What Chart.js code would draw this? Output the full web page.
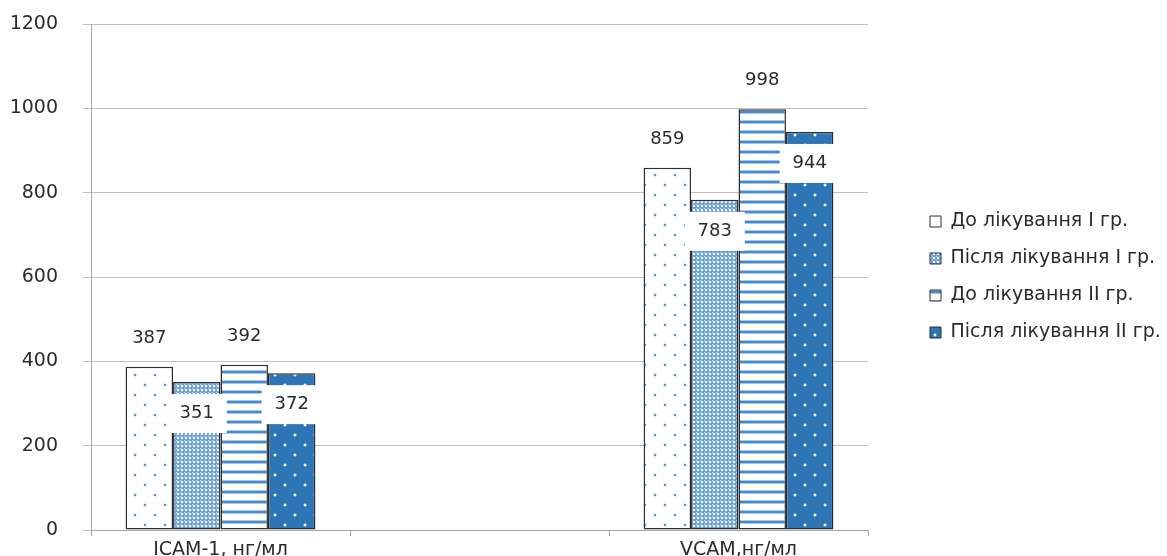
<!DOCTYPE html>
<html><head><meta charset="utf-8">
<script src="https://cdn.jsdelivr.net/npm/chart.js@4.4.1/dist/chart.umd.min.js"></script>
<style>html,body{margin:0;padding:0;background:#fff;overflow:hidden}</style>
</head><body>
<canvas id="c" width="1167" height="556"></canvas>
<script>
// ---- data ----
const categories = ["ICAM-1, нг/мл", "", "VCAM,нг/мл"];
const seriesNames = ["До лікування I гр.", "Після лікування I гр.", "До лікування II гр.", "Після лікування II гр."];
const beforeI  = [387, null, 859];
const afterI   = [351, null, 783];
const beforeII = [392, null, 998];
const afterII  = [372, null, 944];
const yTickValues = [0, 200, 400, 600, 800, 1000, 1200];

// ---- styles ----
const FONT = '"DejaVu Sans", "Open Sans", sans-serif';
const TEXT = '#2b2b2b';
const BORDER = '#2f2f2f';
const canvas = document.getElementById('c');
const ctx = canvas.getContext('2d');

function tile(w, h, draw) {
  const c = document.createElement('canvas'); c.width = w; c.height = h;
  const g = c.getContext('2d'); draw(g); return ctx.createPattern(c, 'repeat');
}
function dot(g, x, y, col, halo) {
  g.fillStyle = halo; g.fillRect(x - 1, y, 4, 2); g.fillRect(x, y - 1, 2, 4);
  g.fillStyle = col; g.fillRect(x, y, 2, 2);
}
const patDotsWhite = tile(20, 20, g => {
  g.fillStyle = '#ffffff'; g.fillRect(0, 0, 20, 20);
  dot(g, 4, 4, '#5b9bd5', 'rgba(91,155,213,0.2)');
  dot(g, 14, 14, '#5b9bd5', 'rgba(91,155,213,0.2)');
});
const patChecker = tile(4, 4, g => {
  g.fillStyle = '#6fa3dd'; g.fillRect(0, 0, 4, 4);
  g.fillStyle = '#ffffff'; g.fillRect(1, 1, 2, 2);
  g.fillStyle = '#b9d3ef'; g.fillRect(0, 0, 1, 1);
});
const patStripes = tile(10, 10, g => {
  g.fillStyle = '#ffffff'; g.fillRect(0, 0, 10, 10);
  g.fillStyle = '#a6c8ec'; g.fillRect(0, 0, 10, 1);
  g.fillStyle = '#4a88cc'; g.fillRect(0, 1, 10, 2);
  g.fillStyle = '#a6c8ec'; g.fillRect(0, 3, 10, 1);
});
const patDotsBlue = tile(20, 20, g => {
  g.fillStyle = '#2e75b6'; g.fillRect(0, 0, 20, 20);
  dot(g, 4, 4, '#ffffff', 'rgba(255,255,255,0.3)');
  dot(g, 14, 14, '#ffffff', 'rgba(255,255,255,0.3)');
});
const fills = [patDotsWhite, patChecker, patStripes, patDotsBlue];
const seriesData = [beforeI, afterI, beforeII, afterII];

const valueLabels = {
  id: 'valueLabels',
  afterDatasetsDraw(chart) {
    const c = chart.ctx;
    c.save();
    c.font = '18px ' + FONT;
    c.textAlign = 'center';
    c.textBaseline = 'middle';
    chart.data.datasets.forEach((ds, di) => {
      const meta = chart.getDatasetMeta(di);
      meta.data.forEach((bar, i) => {
        const v = ds.data[i];
        if (v == null) return;
        if (di % 2 === 1) {
          const cy = bar.y + 31.5;
          c.fillStyle = '#ffffff';
          c.fillRect(bar.x - 30, cy - 19.5, 60, 39);
          c.fillStyle = TEXT;
          c.fillText(String(v), bar.x, cy);
        } else {
          c.fillStyle = TEXT;
          c.fillText(String(v), bar.x, bar.y - 28.5);
        }
      });
    });
    c.restore();
  }
};

const LEGEND_W = 299, LEGEND_SHIFT = 44, LEGEND_UP = 13;
const legendPlace = {
  id: 'legendPlace',
  beforeLayout(chart) {
    const lg = chart.legend;
    if (lg && !lg.__patched) {
      const f = lg.fit;
      lg.fit = function () { f.call(this); this.width = LEGEND_W; };
      lg.__patched = true;
    }
  },
  afterLayout(chart) {
    const lg = chart.legend;
    if (lg) {
      lg.left += LEGEND_SHIFT; lg.right += LEGEND_SHIFT;
      lg.top -= LEGEND_UP; lg.bottom -= LEGEND_UP;
    }
  }
};

new Chart(ctx, {
  type: 'bar',
  data: {
    labels: categories,
    datasets: seriesNames.map((name, i) => ({
      label: name,
      data: seriesData[i],
      backgroundColor: fills[i],
      borderColor: BORDER,
      borderWidth: 1.5,
      borderSkipped: false,
      categoryPercentage: 0.733,
      barPercentage: 1.0
    }))
  },
  options: {
    responsive: false,
    animation: false,
    devicePixelRatio: 1,
    layout: { padding: { top: 24, left: 0, right: 0, bottom: 0 } },
    plugins: {
      tooltip: { enabled: false },
      legend: {
        position: 'right',
        align: 'center',
        labels: {
          font: { family: FONT, size: 19 },
          color: TEXT,
          boxWidth: 11,
          boxHeight: 11,
          padding: 18,
          generateLabels(chart) {
            return chart.data.datasets.map((ds, i) => ({
              text: ds.label, fillStyle: ds.backgroundColor, strokeStyle: BORDER,
              lineWidth: 1, hidden: false, datasetIndex: i, fontColor: TEXT
            }));
          }
        }
      }
    },
    scales: {
      x: {
        offset: true,
        grid: { display: true, drawOnChartArea: false, drawTicks: true, tickLength: 6, color: '#a6a6a6', offset: true },
        border: { display: true, color: '#a6a6a6', width: 1 },
        ticks: { font: { family: FONT, size: 19 }, color: TEXT, padding: 3, maxRotation: 0, autoSkip: false },
        afterFit(scale) { scale.height = 26; scale.paddingLeft = 0; scale.paddingRight = 0; }
      },
      y: {
        min: 0, max: 1200,
        afterBuildTicks(scale) { scale.ticks = yTickValues.map(v => ({ value: v })); },
        grid: { color: '#bfbfbf', lineWidth: 1, drawTicks: true, tickLength: 8 },
        border: { display: true, color: '#a6a6a6', width: 1 },
        ticks: { font: { family: FONT, size: 19 }, color: TEXT, padding: 25, callback: v => String(v) },
        afterFit(scale) { scale.width = 91; scale.paddingTop = 0; scale.paddingBottom = 0; }
      }
    }
  },
  plugins: [valueLabels, legendPlace]
});
</script>
</body></html>
